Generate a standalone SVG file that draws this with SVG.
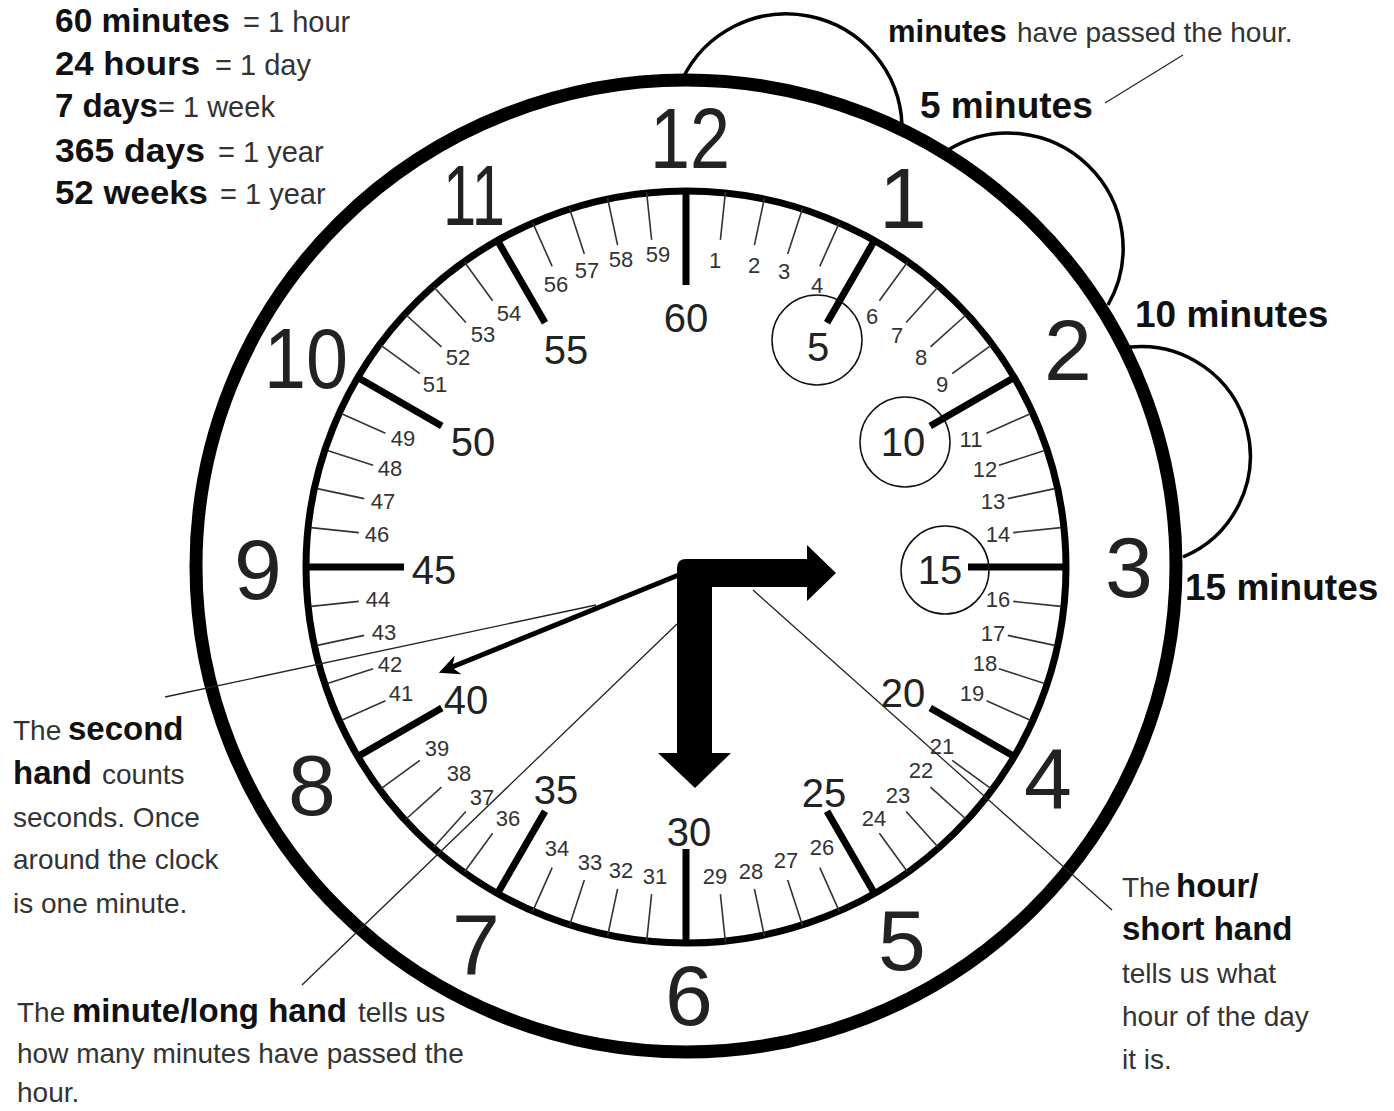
<svg xmlns="http://www.w3.org/2000/svg" width="1394" height="1111" viewBox="0 0 1394 1111">
<style>
.b{font-family:"Liberation Sans",Arial,sans-serif;font-weight:bold;fill:#111}
.t{font-family:"Liberation Sans",Arial,sans-serif;font-weight:normal;fill:#333}
.hr{font-family:"Liberation Sans",Arial,sans-serif;font-size:86px;fill:#222;text-anchor:middle}
.mj{font-family:"Liberation Sans",Arial,sans-serif;font-size:40px;fill:#222;text-anchor:middle}
.mn{font-family:"Liberation Sans",Arial,sans-serif;font-size:22px;fill:#333;text-anchor:middle}
.lead{stroke:#222;stroke-width:1.3;fill:none}
.hump{stroke:#000;stroke-width:3.5;fill:none}
.numc{fill:none;stroke:#111;stroke-width:1.5}
.mt{stroke:#333;stroke-width:1.6}
.Mt{stroke:#000;stroke-width:7}
</style>
<defs>
<line id="minorTick" class="mt" x1="686" y1="190" x2="686" y2="238"/>
<line id="majorTick" class="Mt" x1="686" y1="190" x2="686" y2="285"/>
</defs>

<g id="facts">
<text y="32"><tspan class="b" font-size="33" x="55" textLength="175" lengthAdjust="spacingAndGlyphs">60 minutes</tspan><tspan class="t" font-size="29" x="243">= 1 hour</tspan></text>
<text y="75"><tspan class="b" font-size="33" x="55" textLength="145" lengthAdjust="spacingAndGlyphs">24 hours</tspan><tspan class="t" font-size="29" x="215">= 1 day</tspan></text>
<text y="117"><tspan class="b" font-size="33" x="55" textLength="103" lengthAdjust="spacingAndGlyphs">7 days</tspan><tspan class="t" font-size="29" x="158">= 1 week</tspan></text>
<text y="162"><tspan class="b" font-size="33" x="55" textLength="150" lengthAdjust="spacingAndGlyphs">365 days</tspan><tspan class="t" font-size="29" x="218">= 1 year</tspan></text>
<text y="204"><tspan class="b" font-size="33" x="55" textLength="153" lengthAdjust="spacingAndGlyphs">52 weeks</tspan><tspan class="t" font-size="29" x="220">= 1 year</tspan></text>
</g>

<g id="clock-face">
<ellipse cx="686" cy="566" rx="490" ry="486" fill="none" stroke="#000" stroke-width="13"/>
<ellipse cx="686" cy="567" rx="380" ry="376" fill="none" stroke="#000" stroke-width="7"/>
</g>

<g id="humps">
<path class="hump" d="M 682 80 A 115.6 115.6 0 0 1 902 125"/>
<path class="hump" d="M 948 150 A 115 115 0 0 1 1108 305"/>
<path class="hump" d="M 1130 347 A 109.5 109.5 0 0 1 1183 557"/>
</g>

<g id="minor-ticks">
<use href="#minorTick" transform="rotate(6 686 567)"/><use href="#minorTick" transform="rotate(12 686 567)"/><use href="#minorTick" transform="rotate(18 686 567)"/><use href="#minorTick" transform="rotate(24 686 567)"/>
<use href="#minorTick" transform="rotate(36 686 567)"/><use href="#minorTick" transform="rotate(42 686 567)"/><use href="#minorTick" transform="rotate(48 686 567)"/><use href="#minorTick" transform="rotate(54 686 567)"/>
<use href="#minorTick" transform="rotate(66 686 567)"/><use href="#minorTick" transform="rotate(72 686 567)"/><use href="#minorTick" transform="rotate(78 686 567)"/><use href="#minorTick" transform="rotate(84 686 567)"/>
<use href="#minorTick" transform="rotate(96 686 567)"/><use href="#minorTick" transform="rotate(102 686 567)"/><use href="#minorTick" transform="rotate(108 686 567)"/><use href="#minorTick" transform="rotate(114 686 567)"/>
<use href="#minorTick" transform="rotate(126 686 567)"/><use href="#minorTick" transform="rotate(132 686 567)"/><use href="#minorTick" transform="rotate(138 686 567)"/><use href="#minorTick" transform="rotate(144 686 567)"/>
<use href="#minorTick" transform="rotate(156 686 567)"/><use href="#minorTick" transform="rotate(162 686 567)"/><use href="#minorTick" transform="rotate(168 686 567)"/><use href="#minorTick" transform="rotate(174 686 567)"/>
<use href="#minorTick" transform="rotate(186 686 567)"/><use href="#minorTick" transform="rotate(192 686 567)"/><use href="#minorTick" transform="rotate(198 686 567)"/><use href="#minorTick" transform="rotate(204 686 567)"/>
<use href="#minorTick" transform="rotate(216 686 567)"/><use href="#minorTick" transform="rotate(222 686 567)"/><use href="#minorTick" transform="rotate(228 686 567)"/><use href="#minorTick" transform="rotate(234 686 567)"/>
<use href="#minorTick" transform="rotate(246 686 567)"/><use href="#minorTick" transform="rotate(252 686 567)"/><use href="#minorTick" transform="rotate(258 686 567)"/><use href="#minorTick" transform="rotate(264 686 567)"/>
<use href="#minorTick" transform="rotate(276 686 567)"/><use href="#minorTick" transform="rotate(282 686 567)"/><use href="#minorTick" transform="rotate(288 686 567)"/><use href="#minorTick" transform="rotate(294 686 567)"/>
<use href="#minorTick" transform="rotate(306 686 567)"/><use href="#minorTick" transform="rotate(312 686 567)"/><use href="#minorTick" transform="rotate(318 686 567)"/><use href="#minorTick" transform="rotate(324 686 567)"/>
<use href="#minorTick" transform="rotate(336 686 567)"/><use href="#minorTick" transform="rotate(342 686 567)"/><use href="#minorTick" transform="rotate(348 686 567)"/><use href="#minorTick" transform="rotate(354 686 567)"/>
</g>

<g id="major-ticks">
<use href="#majorTick"/><use href="#majorTick" transform="rotate(30 686 567)"/><use href="#majorTick" transform="rotate(60 686 567)"/><use href="#majorTick" transform="rotate(90 686 567)"/>
<use href="#majorTick" transform="rotate(120 686 567)"/><use href="#majorTick" transform="rotate(150 686 567)"/><use href="#majorTick" transform="rotate(180 686 567)"/><use href="#majorTick" transform="rotate(210 686 567)"/>
<use href="#majorTick" transform="rotate(240 686 567)"/><use href="#majorTick" transform="rotate(270 686 567)"/><use href="#majorTick" transform="rotate(300 686 567)"/><use href="#majorTick" transform="rotate(330 686 567)"/>
</g>

<g id="hour-numbers">
<text class="hr" x="690" y="168" textLength="80" lengthAdjust="spacingAndGlyphs">12</text>
<text class="hr" x="903" y="228">1</text>
<text class="hr" x="1068" y="380">2</text>
<text class="hr" x="1129" y="597">3</text>
<text class="hr" x="1048" y="808">4</text>
<text class="hr" x="902" y="970">5</text>
<text class="hr" x="689" y="1025">6</text>
<text class="hr" x="476" y="974">7</text>
<text class="hr" x="312" y="815">8</text>
<text class="hr" x="258" y="599">9</text>
<text class="hr" x="306" y="388" textLength="84" lengthAdjust="spacingAndGlyphs">10</text>
<text class="hr" x="474" y="225" textLength="62" lengthAdjust="spacingAndGlyphs">11</text>
</g>

<g id="major-minutes">
<text class="mj" x="818" y="361">5</text>
<text class="mj" x="903" y="456">10</text>
<text class="mj" x="940" y="584">15</text>
<text class="mj" x="903" y="707">20</text>
<text class="mj" x="824" y="807">25</text>
<text class="mj" x="689" y="846">30</text>
<text class="mj" x="556" y="804">35</text>
<text class="mj" x="466" y="714">40</text>
<text class="mj" x="434" y="584">45</text>
<text class="mj" x="473" y="456">50</text>
<text class="mj" x="566" y="364">55</text>
<text class="mj" x="686" y="332">60</text>
</g>

<g id="minute-circles">
<circle class="numc" cx="817" cy="340" r="45"/>
<circle class="numc" cx="905" cy="442" r="45"/>
<circle class="numc" cx="945" cy="570" r="44"/>
</g>

<g id="minor-minutes">
<text class="mn" x="715" y="268">1</text><text class="mn" x="754" y="273">2</text><text class="mn" x="784" y="279">3</text><text class="mn" x="817" y="293">4</text>
<text class="mn" x="872" y="324">6</text><text class="mn" x="897" y="343">7</text><text class="mn" x="921" y="365">8</text><text class="mn" x="942" y="392">9</text>
<text class="mn" x="971" y="447">11</text><text class="mn" x="985" y="477">12</text><text class="mn" x="993" y="509">13</text><text class="mn" x="998" y="542">14</text>
<text class="mn" x="998" y="607">16</text><text class="mn" x="993" y="641">17</text><text class="mn" x="985" y="671">18</text><text class="mn" x="972" y="701">19</text>
<text class="mn" x="942" y="754">21</text><text class="mn" x="921" y="778">22</text><text class="mn" x="898" y="803">23</text><text class="mn" x="874" y="826">24</text>
<text class="mn" x="822" y="855">26</text><text class="mn" x="786" y="868">27</text><text class="mn" x="751" y="879">28</text><text class="mn" x="715" y="884">29</text>
<text class="mn" x="655" y="884">31</text><text class="mn" x="621" y="878">32</text><text class="mn" x="590" y="870">33</text><text class="mn" x="557" y="856">34</text>
<text class="mn" x="508" y="826">36</text><text class="mn" x="482" y="805">37</text><text class="mn" x="459" y="781">38</text><text class="mn" x="437" y="756">39</text>
<text class="mn" x="401" y="701">41</text><text class="mn" x="390" y="672">42</text><text class="mn" x="384" y="640">43</text><text class="mn" x="378" y="607">44</text>
<text class="mn" x="377" y="542">46</text><text class="mn" x="383" y="509">47</text><text class="mn" x="390" y="476">48</text><text class="mn" x="403" y="446">49</text>
<text class="mn" x="435" y="392">51</text><text class="mn" x="458" y="365">52</text><text class="mn" x="483" y="342">53</text><text class="mn" x="509" y="321">54</text>
<text class="mn" x="556" y="292">56</text><text class="mn" x="587" y="278">57</text><text class="mn" x="621" y="267">58</text><text class="mn" x="658" y="262">59</text>
</g>

<g id="second-hand">
<line x1="686" y1="572" x2="452" y2="667" stroke="#000" stroke-width="5"/>
<path d="M 441 672 L 453 659 L 451 668 L 458 673 Z" fill="#000" stroke="#000" stroke-width="2" stroke-linejoin="miter"/>
</g>

<g id="hour-minute-hands">
<path d="M 686 559 L 807 559 L 807 545 L 836 573 L 807 601 L 807 587 L 712 587 L 712 753 L 731 753 L 695 788 L 658 753 L 677 753 L 677 568 Q 677 559 686 559 Z" fill="#000"/>
</g>

<g id="connectors">
<line class="lead" x1="596" y1="605" x2="165" y2="697"/>
<line class="lead" x1="677" y1="624" x2="302" y2="985"/>
<line class="lead" x1="753" y1="590" x2="1112" y2="910"/>
<line class="lead" x1="1105" y1="103" x2="1183" y2="55"/>
</g>

<g id="labels">
<text y="42"><tspan class="b" font-size="31" x="888">minutes</tspan><tspan class="t" font-size="28" x="1017">have passed the hour.</tspan></text>
<text class="b" font-size="37" x="920" y="118">5 minutes</text>
<text class="b" font-size="37" x="1135" y="327">10 minutes</text>
<text class="b" font-size="37" x="1185" y="600">15 minutes</text>
</g>

<g id="second-hand-note">
<text y="740"><tspan class="t" font-size="28" x="13">The</tspan><tspan class="b" font-size="33" x="68">second</tspan></text>
<text y="784"><tspan class="b" font-size="33" x="13">hand</tspan><tspan class="t" font-size="28" x="102">counts</tspan></text>
<text class="t" font-size="28" x="13" y="827">seconds. Once</text>
<text class="t" font-size="28" x="13" y="869">around the clock</text>
<text class="t" font-size="28" x="13" y="913">is one minute.</text>
</g>

<g id="minute-hand-note">
<text y="1022"><tspan class="t" font-size="28" x="17">The</tspan><tspan class="b" font-size="33" x="72">minute/long hand</tspan><tspan class="t" font-size="28" x="358">tells us</tspan></text>
<text class="t" font-size="28" x="17" y="1063">how many minutes have passed the</text>
<text class="t" font-size="28" x="17" y="1102">hour.</text>
</g>

<g id="hour-hand-note">
<text y="897"><tspan class="t" font-size="28" x="1122">The</tspan><tspan class="b" font-size="33" x="1176">hour/</tspan></text>
<text class="b" font-size="33" x="1122" y="940">short hand</text>
<text class="t" font-size="28" x="1122" y="983">tells us what</text>
<text class="t" font-size="28" x="1122" y="1026">hour of the day</text>
<text class="t" font-size="28" x="1122" y="1069">it is.</text>
</g>
</svg>
